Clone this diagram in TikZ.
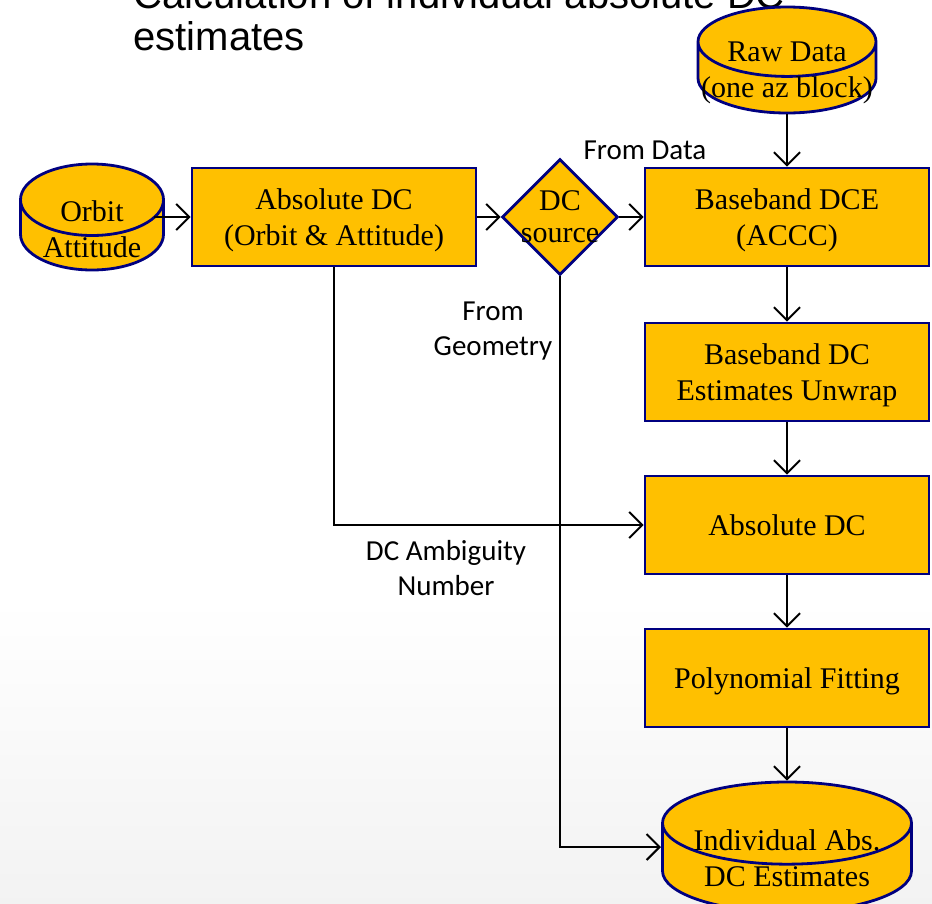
\documentclass[tikz,border=0pt]{standalone}
\usepackage{fontspec}
\setmainfont{Liberation Serif}
\newfontfamily\titlefont{Liberation Sans}
\newfontfamily\notefont{Carlito}
\usetikzlibrary{arrows.meta,positioning,shapes.geometric}
\definecolor{boxfill}{HTML}{FFC000}
\definecolor{boxline}{HTML}{000080}

\begin{document}
\begin{tikzpicture}[
  x=1pt,y=-1pt,
  block/.style={rectangle,draw=boxline,fill=boxfill,line width=2.8pt,
                minimum width=284pt,minimum height=98pt,align=center,
                text depth=0pt,font=\fontsize{30}{36}\selectfont},
  store/.style={cylinder,shape border rotate=90,draw=boxline,fill=boxfill,
                line width=2.8pt,inner ysep=0pt,anchor=shape center},
  storetext/.style={align=center,inner sep=0pt,
                    font=\fontsize{30}{36}\selectfont},
  decision/.style={diamond,draw=boxline,fill=boxfill,line width=2.8pt,
                   minimum width=116pt,minimum height=116pt,inner sep=0pt},
  note/.style={align=center,font=\notefont\fontsize{29}{35}\selectfont},
  flow/.style={-{Straight Barb[length=13pt,width=26pt]},line width=2pt}
]
  \clip (0,0) rectangle (932,903);
  \fill[white] (0,0) rectangle (932,903);
  \shade[top color=white,bottom color=black!5] (0,600) rectangle (932,903);

  \node[anchor=base west,align=left,
        font=\titlefont\fontsize{40}{42}\selectfont] (title) at (130,50)
        {Calculation of individual absolute DC\\estimates};

  % data stores
  \node[store,aspect=0.39,inner xsep=89pt,minimum height=106pt]
        (raw) at (787,60) {};
  \node[storetext] (rawtext) at (787,73) {Raw Data\\(one az block)};
  \node[store,aspect=0.5,inner xsep=71.5pt,minimum height=106pt]
        (orb) at (92,217) {};
  \node[storetext] (orbtext) at (92,229) {Orbit\\Attitude};
  \node[store,aspect=0.33,inner xsep=124.5pt,minimum height=130pt]
        (est) at (787,847) {};
  \node[storetext] (esttext) at (787,858) {Individual Abs.\\DC Estimates};

  % processing steps
  \node[block] (absoa) at (334,217) {Absolute DC\\(Orbit \& Attitude)};
  \node[decision,label={[align=center,font=\fontsize{30}{32}\selectfont]
        center:DC\\source}] (src) at (560,217) {};
  \node[block] (bdce)   at (787,217) {Baseband DCE\\(ACCC)};
  \node[block] (unwrap) at (787,372) {Baseband DC\\Estimates Unwrap};
  \node[block] (absdc)  at (787,525) {Absolute DC};
  \node[block] (poly)   at (787,678) {Polynomial Fitting};

  \node[note] (fromdata) at (645,150) {From Data};
  \node[note] (fromgeo)  at (493,331) {From\\Geometry};
  \node[note] (ambig)    at (446,568) {DC Ambiguity\\Number};

  \draw[flow] (raw.bottom) -- (bdce);
  \draw[flow] (orb.shape center -| orb.east)
              -- (orb.shape center -| absoa.west);
  \draw[flow] (absoa) -- (src);
  \draw[flow] (src) -- (bdce);
  \foreach \a/\b in {bdce/unwrap,unwrap/absdc,absdc/poly}{
    \draw[flow] (\a) -- (\b);
  }
  \draw[flow] (poly) -- (est.top);
  \draw[flow] (absoa.south) |- (absdc.west);
  \draw[flow] (src.south) |- ([xshift=-126pt]est.shape center);
\end{tikzpicture}
\end{document}
